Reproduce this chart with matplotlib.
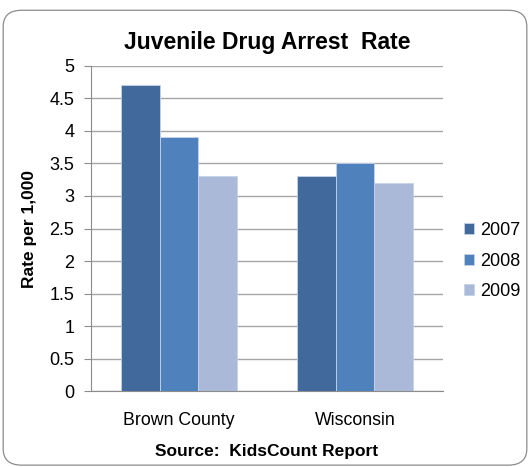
import matplotlib.pyplot as plt
import numpy as np
from matplotlib.patches import FancyBboxPatch

plt.rcParams['font.family'] = ['Liberation Sans', 'DejaVu Sans']

categories = ['Brown County', 'Wisconsin']
years = ['2007', '2008', '2009']
rates = {
    '2007': [4.7, 3.3],
    '2008': [3.9, 3.5],
    '2009': [3.3, 3.2],
}
colors = ['#41699C', '#4F81BD', '#AAB9D7']

fig = plt.figure(figsize=(5.3, 4.67), dpi=100)

# rounded border around the chart
border = FancyBboxPatch((0.006, 0.004), 0.988, 0.974, boxstyle='round,pad=0,rounding_size=0.035',
                        transform=fig.transFigure, facecolor='white', edgecolor='#8c8c8c',
                        linewidth=0.9, zorder=-1)
fig.patches.append(border)

ax = fig.add_axes([0.1717, 0.1627, 0.664, 0.696])
ax.set_facecolor('none')

x = np.arange(len(categories))
w = 0.22
for i, yr in enumerate(years):
    ax.bar(x + (i - 1) * w, rates[yr], width=w, color=colors[i], edgecolor='#c5d3e8',
           linewidth=0.6, label=yr, zorder=3)

ax.set_xlim(-0.5, 1.5)
ax.set_ylim(0, 5)
ax.set_yticks(np.arange(0, 5.01, 0.5))
ax.set_yticklabels(['0', '0.5', '1', '1.5', '2', '2.5', '3', '3.5', '4', '4.5', '5'])
ax.set_xticks(x)
ax.set_xticklabels(categories)
ax.yaxis.grid(True, color='#a6a6a6', linewidth=1.0, zorder=0)
ax.tick_params(axis='y', length=5, color='#8c8c8c', labelsize=13, pad=7)
ax.tick_params(axis='x', length=0, labelsize=12.8, pad=15)
for s in ['top', 'right']:
    ax.spines[s].set_visible(False)
for s in ['left', 'bottom']:
    ax.spines[s].set_color('#8c8c8c')

ax.set_title('Juvenile Drug Arrest  Rate', fontsize=16.5, fontweight='bold', pad=12)
ax.set_ylabel('Rate per 1,000', fontsize=12.5, fontweight='bold', labelpad=9)
ax.set_xlabel('Source:  KidsCount Report', fontsize=12.5, fontweight='bold', labelpad=11)

ax.legend(loc='center left', bbox_to_anchor=(1.015, 0.40), frameon=False, fontsize=13,
          handlelength=0.55, handleheight=0.55, handletextpad=0.3, labelspacing=0.75)

fig.savefig('out.png', dpi=100)
